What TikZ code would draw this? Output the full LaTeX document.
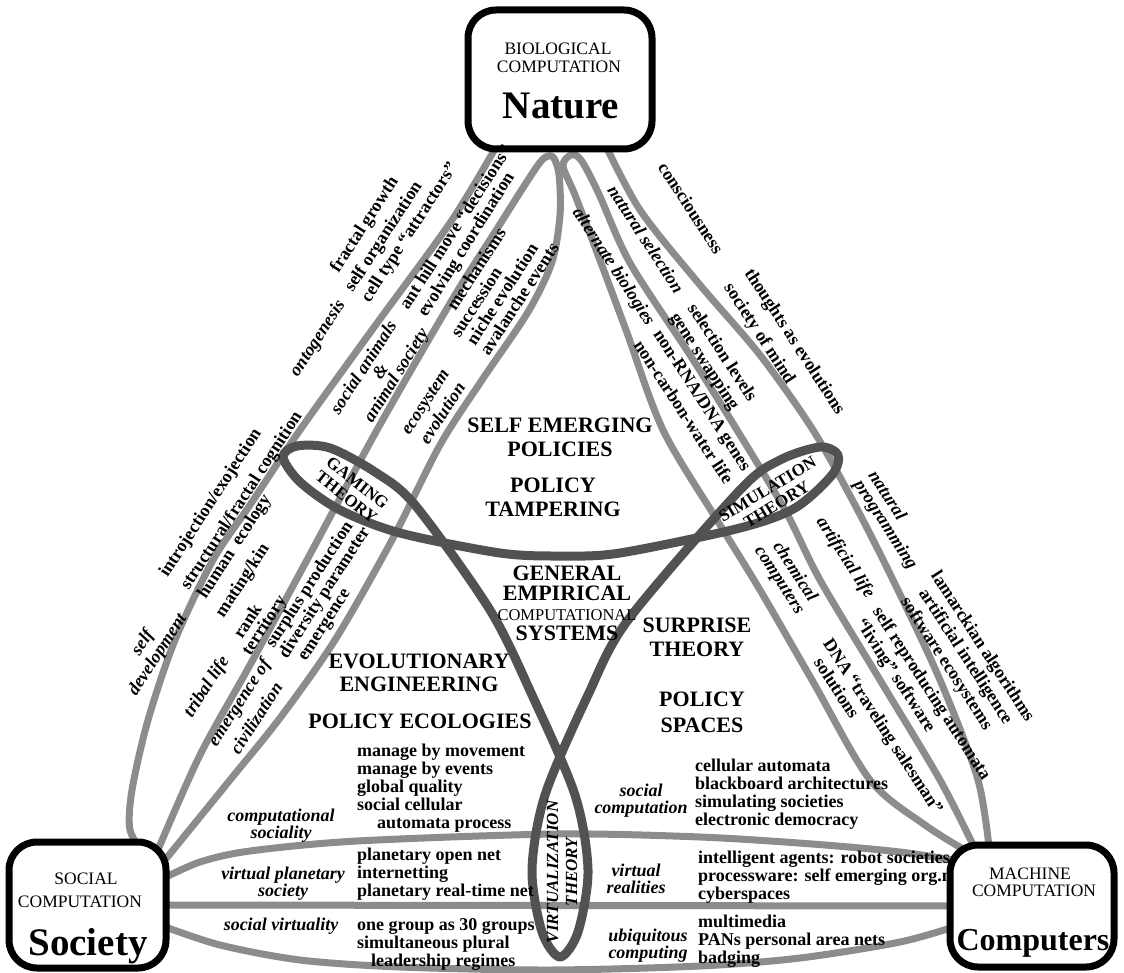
\documentclass[tikz,border=0pt]{standalone}
\usepackage{fontspec}
\setmainfont{Liberation Serif}
\definecolor{petalgray}{gray}{0.55}
\definecolor{knotgray}{gray}{0.32}
\newcommand{\uplbl}[4]{\node[lbl,rotate=57] (#1) at (#2,#3) {#4};}
\newcommand{\upital}[4]{\node[ilbl,rotate=57] (#1) at (#2,#3) {#4};}
\newcommand{\dnlbl}[4]{\node[lbl,rotate=-57] (#1) at (#2,#3) {#4};}
\newcommand{\dnital}[4]{\node[ilbl,rotate=-57] (#1) at (#2,#3) {#4};}
\begin{document}
\begin{tikzpicture}[x=1pt,y=-1pt,
    petal/.style={draw=petalgray,line width=7pt,line cap=round,line join=round},
    knot/.style={draw=knotgray,line width=9pt,line join=round},
    hub/.style={draw,line width=7pt,rounded corners=28pt,fill=white,inner sep=0pt},
    hubcap/.style={font=\fontsize{17.5}{18}\selectfont,inner sep=0pt},
    hubname/.style={font=\fontsize{39}{40}\selectfont\bfseries,inner sep=0pt},
    lbl/.style={font=\fontsize{18}{18}\selectfont\bfseries,inner sep=0pt},
    ilbl/.style={font=\fontsize{18}{17}\selectfont\bfseries\itshape,inner sep=0pt,align=center},
    items/.style={lbl,align=left,anchor=west},
    big/.style={font=\fontsize{22}{24}\selectfont\bfseries,inner sep=0pt,align=center},
    theory/.style={font=\fontsize{17}{18}\selectfont\bfseries,inner sep=0pt,align=center}]
    \useasboundingbox (0,0) rectangle (1124,973);

    % joints hidden under the three boxes
    \coordinate (natL) at (500,140);
    \coordinate (natR) at (603,140);
    \coordinate (socN1) at (145,855);
    \coordinate (socN2) at (157,852);
    \coordinate (socN3) at (165,860);
    \coordinate (socE1) at (160,880);
    \coordinate (socE2) at (160,905);
    \coordinate (socE3) at (160,925);
    \coordinate (compN1) at (968,852);
    \coordinate (compN2) at (978,855);
    \coordinate (compN3) at (990,856);
    \coordinate (compW1) at (965,862);
    \coordinate (compW2) at (960,906);
    \coordinate (compW3) at (960,925);

    % nature - society petals
    \draw[petal] plot[smooth] coordinates {(natL) (452,220) (372,330) (300,430) (250,505) (213,560) (175,640) (148,720) (132,790) (130,830) (socN1)};
    \draw[petal] plot[smooth] coordinates {(socN2) (200,755) (250,665) (307,560) (377,430) (452,300) (495,232) (528,180) (543,159) (553,157) (559,175) (560,215) (552,262) (528,312) (482,380) (440,445) (392,540) (335,640) (280,718) (230,780) (socN3)};
    % nature - computers petals
    \draw[petal] plot[smooth] coordinates {(compN1) (925,825) (870,780) (812,680) (760,590) (717,520) (663,430) (626,330) (598,255) (575,195) (563,166) (571,155) (581,160) (598,192) (630,263) (690,355) (737,430) (785,510) (820,580) (880,680) (940,780) (compN2)};
    \draw[petal] plot[smooth] coordinates {(natR) (640,210) (700,285) (760,355) (813,430) (855,505) (893,580) (940,680) (978,780) (compN3)};
    % society - computers petals
    \draw[petal] plot[smooth] coordinates {(socE1) (200,862) (250,851) (357,841) (557,834) (700,837) (812,844) (900,852) (compW1)};
    \draw[petal] (socE2) -- (compW2);
    \draw[petal] plot[smooth] coordinates {(socE3) (220,945) (300,960) (400,967) (550,970) (700,966) (800,958) (900,942) (compW3)};

    % the three theory loops
    \draw[knot] plot[smooth cycle] coordinates {(283,457) (297,446) (330,448) (375,472) (415,505) (490,610) (532,695) (575,795) (588,870) (578,932) (560,957) (542,932) (532,870) (545,795) (588,695) (628,620) (740,490) (780,460) (820,447) (838,455) (832,475) (795,508) (740,528) (620,553) (560,556) (500,553) (400,533) (340,510) (300,482)};

    % boxes
    \node[hub,minimum width=184pt,minimum height=139pt] (nature) at (560,79.5) {};
    \node[hub,minimum width=157pt,minimum height=126pt] (society) at (87.5,905) {};
    \node[hub,minimum width=164pt,minimum height=122pt] (computers) at (1032,906) {};
    \node[hubcap] (natA) at (558,49) {BIOLOGICAL};
    \node[hubcap] (natB) at (559,67) {COMPUTATION};
    \node[hubname] (natC) at (561,106) {Nature};
    \node[hubcap] (socA) at (86,879) {SOCIAL};
    \node[hubcap] (socB) at (80,902) {COMPUTATION};
    \node[hubname] (socC) at (88,946) {Society};
    \node[hubcap] (comA) at (1030,874) {MACHINE};
    \node[hubcap] (comB) at (1034,891) {COMPUTATION};
    \node[hubname,font=\fontsize{32}{34}\selectfont\bfseries] (comC) at (1033,943) {Computers};

    % theory names
    \node[theory,rotate=-38] (gaming) at (352,490) {GAMING\\THEORY};
    \node[theory,rotate=31] (simul) at (772,497) {SIMULATION\\THEORY};
    \node[theory,font=\fontsize{17}{19}\selectfont\bfseries\itshape,rotate=90] (virtual) at (562,872) {VIRTUALIZATION\\THEORY};

    % centre
    \node[big] (selfem) at (560,437) {SELF EMERGING\\POLICIES};
    \node[big] (tamper) at (553,497) {POLICY\\TAMPERING};
    \node[big,font=\fontsize{22}{20}\selectfont\bfseries] (gecs) at (567,603) {GENERAL\\EMPIRICAL\\{\fontsize{16.5}{17}\selectfont\mdseries COMPUTATIONAL}\\SYSTEMS};
    \node[big] (surprise) at (697,637) {SURPRISE\\THEORY};
    \node[big,font=\fontsize{22}{26}\selectfont\bfseries] (spaces) at (702,712) {POLICY\\SPACES};
    \node[big,font=\fontsize{22}{23}\selectfont\bfseries] (evoeng) at (419,673) {EVOLUTIONARY\\ENGINEERING};
    \node[big] (ecolog) at (420,721) {POLICY ECOLOGIES};

    % nature - society labels
    \upital{onto}{318}{339}{ontogenesis}
    \uplbl{fractal}{365}{225}{fractal growth}
    \uplbl{selforg}{384}{237}{self organization}
    \uplbl{celltype}{410}{233}{cell type ``attractors''}
    \upital{socanim}{363}{367}{social animals}
    \upital{amp}{380}{371}{\&}
    \node[ilbl,rotate=58] (animsoc) at (397,376) {animal society};
    \uplbl{anthill}{455}{227}{ant hill move ``decisions''}
    \node[lbl,rotate=58] (evolving) at (467,245) {evolving coordination};
    \uplbl{mechan}{476}{269}{mechanisms}
    \uplbl{success}{476}{302}{succession}
    \uplbl{niche}{502}{294}{niche evolution}
    \uplbl{avalan}{519}{299}{avalanche events}
    \upital{ecosys}{427}{403}{ecosystem}
    \upital{ecoevo}{442}{413}{evolution}
    \uplbl{intro}{211}{503}{introjection/exojection}
    \uplbl{struct}{242}{501}{structural/fractal cognition}
    \uplbl{human}{235}{547}{human\ \ ecology}
    \upital{selfdev}{143}{643}{self}
    \upital{develop}{158}{655}{development}
    \uplbl{mating}{243}{581}{mating/kin}
    \uplbl{rank}{247}{621}{rank}
    \uplbl{territ}{265}{626}{territory}
    \uplbl{surplus}{310}{585}{surplus production}
    \uplbl{divers}{325}{593}{diversity parameter}
    \uplbl{emerg}{326}{626}{emergence}
    \upital{tribal}{207}{687}{tribal life}
    \upital{emergof}{240}{703}{emergence of}
    \upital{civil}{256}{718}{civilization}

    % nature - computers labels
    \dnlbl{consc}{691}{208}{consciousness}
    \dnital{natsel}{646}{239}{natural selection}
    \dnital{altbio}{613}{267}{alternate biologies}
    \dnlbl{thoughts}{794}{342}{thoughts as evolutions}
    \dnlbl{socmind}{759}{334}{society of mind}
    \dnlbl{sellev}{723}{352}{selection levels}
    \dnlbl{gene}{704}{362}{gene swapping}
    \dnlbl{nonrna}{701}{401}{non-RNA/DNA genes}
    \dnlbl{noncarb}{684}{412}{non-carbon-water life}
    \dnital{natural}{888}{495}{natural}
    \dnital{program}{885}{525}{programming}
    \dnital{artlife}{845}{558}{artificial life}
    \dnital{chem}{796}{571}{chemical}
    \dnital{comps}{778}{581}{computers}
    \dnlbl{lamarck}{982}{647}{lamarckian algorithms}
    \dnlbl{artint}{965}{657}{artificial intelligence}
    \dnlbl{softeco}{946}{664}{software ecosystems}
    \dnlbl{selfrep}{931}{694}{self reproducing automata}
    \dnlbl{living}{895}{676}{``living'' software}
    \dnlbl{dna}{882}{727}{DNA ``traveling salesman''}
    \dnlbl{solut}{837}{688}{solutions}

    % society - computers labels
    \node[ilbl] (compsoc) at (281,826) {computational\\sociality};
    \node[items] (ecolist) at (357,788) {manage by movement\\manage by events\\global quality\\social cellular\\\hspace*{20pt}automata process};
    \node[ilbl] (virtplan) at (283,884) {virtual planetary\\society};
    \node[items] (planlist) at (357,874) {planetary open net\\internetting\\planetary real-time net};
    \node[ilbl] (socvirt) at (281,926) {social virtuality};
    \node[items] (grouplist) at (357,944) {one group as 30 groups\\simultaneous plural\\\hspace*{14pt}leadership regimes};
    \node[ilbl] (soccomp) at (641,801) {social\\computation};
    \node[items] (celllist) at (695,794) {cellular automata\\blackboard architectures\\simulating societies\\electronic democracy};
    \node[ilbl] (virtreal) at (636,879) {virtual\\realities};
    \node[items] (agentlist) at (698,877) {intelligent agents: robot societies\\processware: self emerging org.n\\cyberspaces};
    \node[ilbl] (ubiq) at (648,946) {ubiquitous\\computing};
    \node[items] (medialist) at (698,941) {multimedia\\PANs personal area nets\\badging};
\end{tikzpicture}
\end{document}
